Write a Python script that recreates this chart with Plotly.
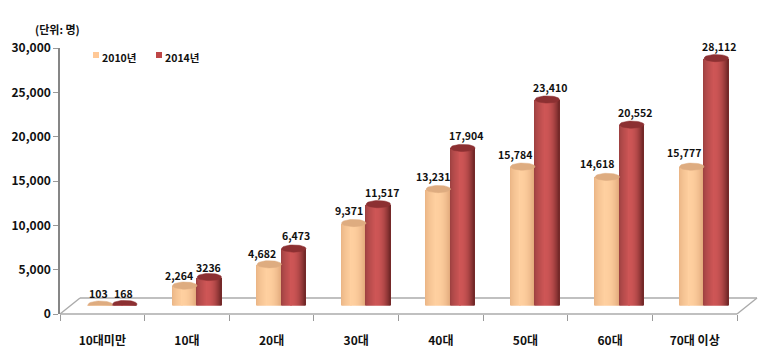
import math
import plotly.graph_objects as go

categories = ["10대미만", "10대", "20대", "30대", "40대", "50대", "60대", "70대 이상"]
values_2010 = [103, 2264, 4682, 9371, 13231, 15784, 14618, 15777]
values_2014 = [168, 3236, 6473, 11517, 17904, 23410, 20552, 28112]
labels_2010 = ["103", "2,264", "4,682", "9,371", "13,231", "15,784", "14,618", "15,777"]
labels_2014 = ["168", "3236", "6,473", "11,517", "17,904", "23,410", "20,552", "28,112"]
y_ticks = [0, 5000, 10000, 15000, 20000, 25000, 30000]
y_tick_labels = ["0", "5,000", "10,000", "15,000", "20,000", "25,000", "30,000"]

W, H = 763, 354
FONT = "Noto Sans CJK KR"
TXT = "#111111"
# pixel frame of the chart
AX_L, AX_R, AX_T, AX_B = 60, 737, 48, 314
DX, DY = 20, 16          # floor depth
BAR_L, BAR_R = 70.25, 746.25   # bar axis
BAR_B, BAR_T = 305.5, 41.5
UNIT_PX = (BAR_R - BAR_L) / 8
PX_Y = 30000 / (BAR_B - BAR_T)
BAR_W = 24.5
EH = 3.6 * PX_Y
SLICES = 25


def mix(a, b, t):
    return tuple(a[k] + (b[k] - a[k]) * t for k in range(3))


def rgb(c):
    return "rgb(%d,%d,%d)" % c


def shade(edge_l, mid, edge_r, t):
    # t in 0..1 across cylinder, highlight left of the centre
    peak = 0.42
    if t < peak:
        return mix(edge_l, mid, min(1, (t / peak) ** 0.6))
    return mix(mid, edge_r, ((t - peak) / (1 - peak)) ** 2.2)


def cylinder(values, side, edge_l, mid, edge_r, cap):
    traces = []
    w = BAR_W / UNIT_PX
    for s in range(SLICES):
        t = (s + 0.5) / SLICES
        u = 2 * t - 1
        curve = math.sqrt(max(0, 1 - u * u))
        xs = [i + side * w / 2 - w / 2 + t * w for i in range(len(values))]
        bases = [-EH * curve] * len(values)
        heights = [v + EH * curve for v in values]
        traces.append(go.Bar(
            x=xs, y=heights, base=bases, width=w / SLICES * 1.15,
            marker=dict(color=rgb(shade(edge_l, mid, edge_r, t)), line_width=0),
            xaxis="x2", yaxis="y2", showlegend=False, hoverinfo="skip"))
    # elliptical lids
    for i, v in enumerate(values):
        cx = i + side * w / 2
        n = 40
        ex = [cx + w / 2 * math.cos(2 * math.pi * k / n) for k in range(n + 1)]
        ey = [v + EH * math.sin(2 * math.pi * k / n) for k in range(n + 1)]
        traces.append(go.Scatter(
            x=ex, y=ey, mode="lines", fill="toself", fillcolor=rgb(cap),
            line=dict(color=rgb(cap), width=0.5),
            xaxis="x2", yaxis="y2", showlegend=False, hoverinfo="skip"))
    return traces


fig = go.Figure()
# anchors the category axis
fig.add_trace(go.Scatter(x=categories, y=[0] * len(categories), mode="markers",
                         marker=dict(opacity=0), showlegend=False, hoverinfo="skip"))
for tr in cylinder(values_2010, -1, (232, 178, 130), (255, 208, 160), (226, 170, 124), (222, 172, 128)):
    fig.add_trace(tr)
for tr in cylinder(values_2014, 1, (150, 62, 62), (206, 86, 86), (110, 38, 38), (140, 48, 50)):
    fig.add_trace(tr)

# value labels: reference places them by hand, small pixel nudges from the bar top
nudge_2010 = [(-2, -1), (-6, -2), (-7, -1), (-5, 1), (-5, 1), (-8, 0), (-10, 1), (-8, 2)]
nudge_2014 = [(-1, -1), (-1, -2), (2, 1), (4, 0), (3, 0), (3, 0), (3, 0), (3, 0)]
ann = []
for vals, labs, side, nudges in ((values_2010, labels_2010, -1, nudge_2010),
                                 (values_2014, labels_2014, 1, nudge_2014)):
    for i, (v, l, (nx, ny)) in enumerate(zip(vals, labs, nudges)):
        ann.append(dict(x=i + side * BAR_W / UNIT_PX / 2, y=v, xref="x2", yref="y2",
                        text=l, showarrow=False, xanchor="center", yanchor="middle",
                        xshift=nx, yshift=12 + ny,
                        font=dict(family=FONT, size=10.5, color=TXT, weight="bold")))


def px(x, y):
    return x / W, 1 - y / H


ann.append(dict(x=px(57, 0)[0], y=px(0, 29)[1], xref="paper", yref="paper", text="(단위: 명)",
                xanchor="center", yanchor="middle", showarrow=False,
                font=dict(family=FONT, size=11, color=TXT, weight="bold")))
# legend
legend_items = [("2010년", 93, (255, 200, 150)), ("2014년", 156, (190, 70, 70))]
shapes = []
for name, lx, col in legend_items:
    ann.append(dict(x=px(lx + 8, 0)[0], y=px(0, 58)[1], xref="paper", yref="paper", text=name,
                    xanchor="left", yanchor="middle", showarrow=False, borderpad=0,
                    font=dict(family=FONT, size=10.5, color=TXT, weight="bold")))
    shapes.append(dict(type="rect", xref="paper", yref="paper",
                       x0=px(lx, 0)[0], x1=px(lx + 6, 0)[0], y0=px(0, 58)[1], y1=px(0, 52)[1],
                       fillcolor=rgb(col), line_width=0))
# floor
floor = [(AX_L, AX_B), (AX_R, AX_B), (AX_R + DX, AX_B - DY), (AX_L + DX, AX_B - DY)]
for a, b in zip(floor, floor[1:] + floor[:1]):
    shapes.append(dict(type="line", xref="paper", yref="paper", layer="below",
                       x0=px(*a)[0], y0=px(*a)[1], x1=px(*b)[0], y1=px(*b)[1],
                       line=dict(color="#ABABAB", width=1.5)))

fig.update_layout(
    template="none",
    width=W, height=H, margin=dict(l=0, r=0, t=0, b=0, autoexpand=False),
    paper_bgcolor="white", plot_bgcolor="rgba(0,0,0,0)",
    barmode="overlay", bargap=0, showlegend=False,
    annotations=ann, shapes=shapes,
    xaxis=dict(domain=[AX_L / W, AX_R / W], type="category", categoryorder="array",
               categoryarray=categories, range=[-0.5, 7.5], autorange=False, automargin=False,
               tickson="boundaries", ticks="outside", ticklen=6, tickcolor="#9A9A9A",
               ticklabelstandoff=18, showgrid=False, zeroline=False,
               showline=False, anchor="y",
               tickfont=dict(family=FONT, size=12, color=TXT, weight="bold")),
    yaxis=dict(domain=[1 - AX_B / H, 1 - AX_T / H], range=[0, 30000], autorange=False, automargin=False,
               tickvals=y_ticks, ticktext=y_tick_labels, ticks="outside", ticklen=5,
               tickcolor="#9A9A9A", showline=True, linecolor="#868686", linewidth=1.5,
               showgrid=False, zeroline=False, anchor="x",
               tickfont=dict(family=FONT, size=12, color=TXT, weight="bold")),
    xaxis2=dict(domain=[BAR_L / W, BAR_R / W], range=[-0.5, 7.5], autorange=False, visible=False,
                anchor="y2", automargin=False),
    yaxis2=dict(domain=[1 - BAR_B / H, 1 - BAR_T / H], range=[0, 30000], autorange=False, visible=False,
                anchor="x2", automargin=False),
)
fig.write_html("out.html", config=dict(displayModeBar=False),
               post_script="document.body.style.margin='0';document.body.style.overflow='hidden';")
